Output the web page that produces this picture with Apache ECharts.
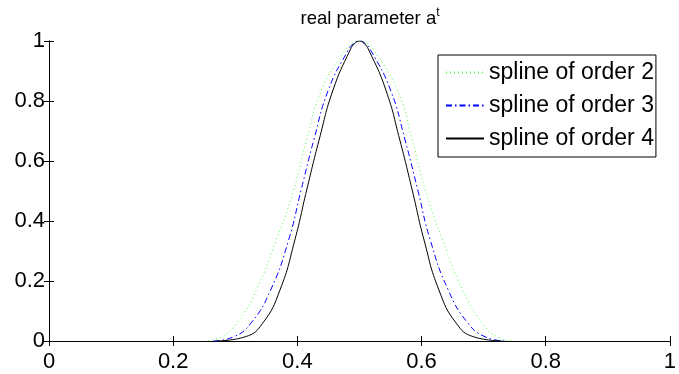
<!DOCTYPE html>
<html>
<head>
<meta charset="utf-8">
<script src="https://cdn.jsdelivr.net/npm/echarts@6/dist/echarts.min.js"></script>
<style>
  html, body { margin: 0; padding: 0; background: #fff; }
  #chart { width: 679px; height: 374px; }
</style>
</head>
<body>
<div id="chart"></div>
<script>
// values
var yLevels = [0, 0.014, 0.059, 0.17, 0.337, 0.503, 0.67, 0.837, 0.97, 0.992, 1, 0.992, 0.97, 0.837, 0.67, 0.503, 0.337, 0.17, 0.059, 0.014, 0];
var order2X = [0.25, 0.278, 0.302, 0.334, 0.366, 0.394, 0.415, 0.439, 0.477, 0.488, 0.5, 0.512, 0.523, 0.561, 0.585, 0.606, 0.634, 0.666, 0.698, 0.722, 0.75];
var order3X = [0.265, 0.2975, 0.325, 0.357, 0.386, 0.406, 0.4265, 0.45, 0.482, 0.491, 0.5, 0.509, 0.518, 0.55, 0.5735, 0.594, 0.614, 0.643, 0.675, 0.7025, 0.735];
var order4X = [0.27, 0.316, 0.344, 0.372, 0.396, 0.415, 0.435, 0.4575, 0.485, 0.4925, 0.5, 0.5075, 0.515, 0.5425, 0.565, 0.585, 0.604, 0.628, 0.656, 0.684, 0.73];
var seriesNames = ['spline of order 2', 'spline of order 3', 'spline of order 4'];

function pairs(xs, ys) {
  return xs.map(function (x, i) { return [x, ys[i]]; });
}

var FONT = 'Liberation Sans, Arial, sans-serif';
var myChart = echarts.init(document.getElementById('chart'));

var tickFmt = function (v) { return String(Math.round(v * 10) / 10); };

var option = {
  animation: false,
  backgroundColor: '#fff',
  title: {
    text: 'real parameter a{sup|t}',
    left: 365,
    textAlign: 'center',
    top: 2,
    textStyle: {
      fontFamily: FONT,
      fontWeight: 'normal',
      fontSize: 18.5,
      color: '#000',
      lineHeight: 24,
      rich: {
        sup: { fontFamily: FONT, fontSize: 12, verticalAlign: 'top', lineHeight: 24, color: '#000' }
      }
    }
  },
  grid: { left: 49, right: 0, top: 41, bottom: 33 },
  legend: {
    orient: 'vertical',
    left: 438,
    top: 55,
    padding: [6, 2, 7, 7],
    itemWidth: 38,
    itemHeight: 14,
    itemGap: 10,
    backgroundColor: '#fff',
    borderColor: '#000',
    borderWidth: 1,
    itemStyle: { opacity: 0 },
    data: seriesNames,
    textStyle: { fontFamily: FONT, fontSize: 23, color: '#000' }
  },
  xAxis: [
    {
      type: 'value', min: 0, max: 1, interval: 0.2,
      axisLine: { lineStyle: { color: '#000', width: 1 } },
      axisTick: { inside: true, length: 5, lineStyle: { color: '#000' } },
      axisLabel: { fontFamily: FONT, fontSize: 22, color: '#000', margin: 10, formatter: tickFmt },
      splitLine: { show: false }
    },
    {
      type: 'value', min: 0, max: 1, interval: 0.2, position: 'top',
      axisLine: { lineStyle: { color: '#000', width: 1 } },
      axisTick: { inside: true, length: 5, lineStyle: { color: '#000' } },
      axisLabel: { show: false },
      splitLine: { show: false }
    }
  ],
  yAxis: [
    {
      type: 'value', min: 0, max: 1, interval: 0.2,
      axisLine: { show: true, lineStyle: { color: '#000', width: 1 } },
      axisTick: { show: true, inside: true, length: 5, lineStyle: { color: '#000' } },
      axisLabel: { fontFamily: FONT, fontSize: 22, color: '#000', margin: 4, formatter: tickFmt },
      splitLine: { show: false }
    },
    {
      type: 'value', min: 0, max: 1, interval: 0.2, position: 'right',
      axisLine: { show: true, lineStyle: { color: '#000', width: 1 } },
      axisTick: { show: true, inside: true, length: 5, lineStyle: { color: '#000' } },
      axisLabel: { show: false },
      splitLine: { show: false }
    }
  ],
  series: [
    {
      name: seriesNames[0], type: 'line', symbol: 'none', smooth: 0.5,
      data: pairs(order2X, yLevels),
      lineStyle: { color: '#44ff44', width: 1, type: [1, 3] },
      itemStyle: { color: '#44ff44' }
    },
    {
      name: seriesNames[1], type: 'line', symbol: 'none', smooth: 0.5,
      data: pairs(order3X, yLevels),
      lineStyle: { color: '#0000ff', width: 1, type: [6, 3, 1.5, 3] },
      itemStyle: { color: '#0000ff' }
    },
    {
      name: seriesNames[2], type: 'line', symbol: 'none', smooth: 0.5,
      data: pairs(order4X, yLevels),
      lineStyle: { color: '#000', width: 1, type: 'solid' },
      itemStyle: { color: '#000' }
    }
  ]
};
myChart.setOption(option);
</script>
</body>
</html>
